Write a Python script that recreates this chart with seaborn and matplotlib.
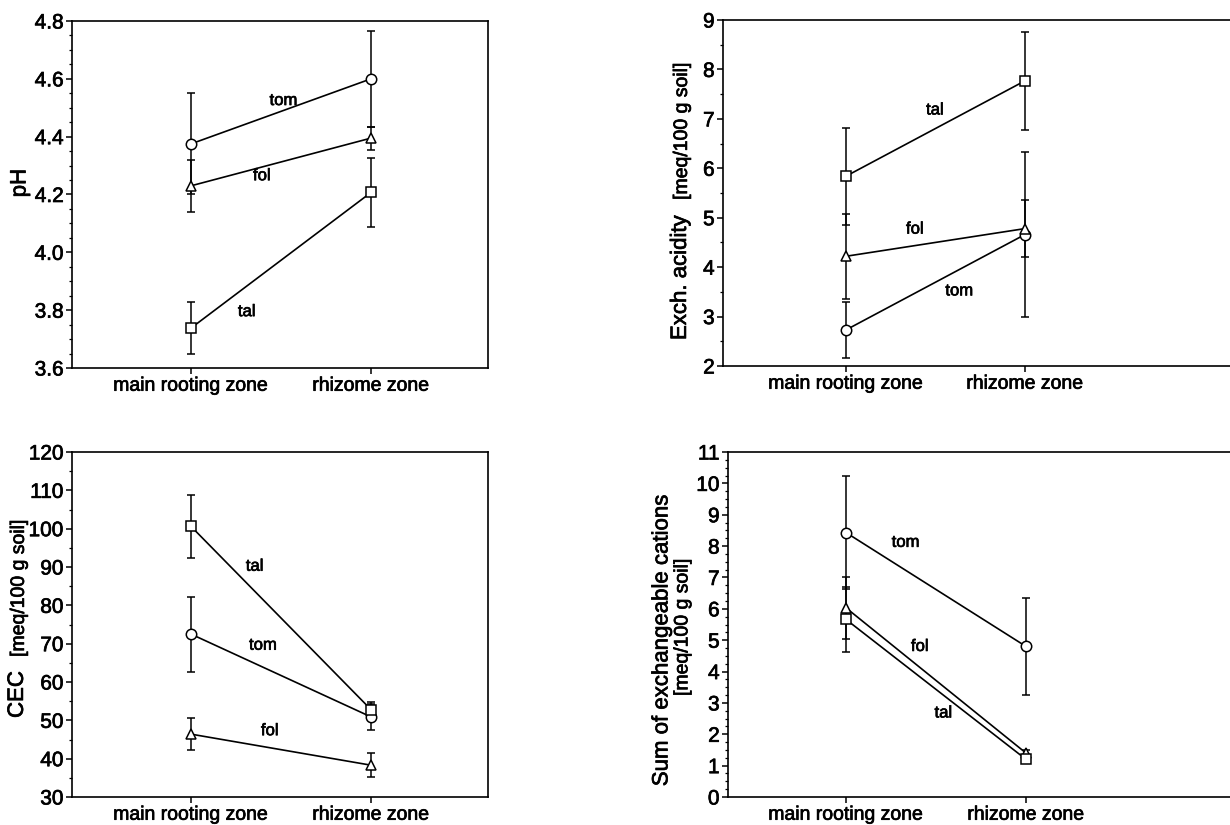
import pandas as pd
import seaborn as sns
import matplotlib.pyplot as plt
import matplotlib.patheffects as pe
from matplotlib.ticker import MultipleLocator, FormatStrFormatter

# Kategorier
zones = ["main rooting zone", "rhizome zone"]
sites = ["tom", "fol", "tal"]

# pH (mean, error)
ph_tom = [4.375, 4.600]
ph_fol = [4.230, 4.395]
ph_tal = [3.738, 4.207]
ph_tom_err = [0.175, 0.165]
ph_fol_err = [0.090, 0.040]
ph_tal_err = [0.090, 0.118]

# Exch. acidity [meq/100 g soil]
acid_tom = [2.73, 4.66]
acid_fol = [4.22, 4.78]
acid_tal = [5.84, 7.77]
acid_tom_err = [0.57, 1.66]
acid_fol_err = [0.86, 0.58]
acid_tal_err = [0.98, 0.99]

# CEC [meq/100 g soil]
cec_tom = [72.5, 50.9]
cec_fol = [46.4, 38.3]
cec_tal = [100.6, 52.8]
cec_tom_err = [9.8, 3.3]
cec_fol_err = [4.2, 3.2]
cec_tal_err = [8.3, 2.0]

# Sum of exchangeable cations [meq/100 g soil]
sum_tom = [8.43, 4.80]
sum_fol = [6.03, 1.40]
sum_tal = [5.66, 1.20]
sum_tom_err = [1.80, 1.55]
sum_fol_err = [0.98, 0.10]
sum_tal_err = [1.04, 0.08]

markers = {"tom": "o", "fol": "^", "tal": "s"}

sns.set_theme(style="ticks")
plt.rcParams["font.family"] = ["Liberation Sans", "DejaVu Sans"]
plt.rcParams["text.color"] = "black"
plt.rcParams["xtick.color"] = "black"
plt.rcParams["ytick.color"] = "black"

# litt tykkere tekst, som i den skannede figuren
bold_ish = [pe.withStroke(linewidth=0.5, foreground="black")]

W, H = 1230, 825
fig = plt.figure(figsize=(W / 100, H / 100), dpi=100)


def px_rect(left, top, right, bottom):
    return [left / W, 1 - bottom / H, (right - left) / W, (bottom - top) / H]


def panel_df(means, errs):
    rows = []
    for site, m, e in zip(sites, means, errs):
        for i, z in enumerate(zones):
            rows.append({"site": site, "pos": i, "zone": z, "mean": m[i], "err": e[i]})
    return pd.DataFrame(rows)


def draw(ax, df, xlim, ylim, major, minor, fmt, labels):
    ax.errorbar(df["pos"], df["mean"], yerr=df["err"], fmt="none", ecolor="black",
                elinewidth=1.1, capsize=3, capthick=1.1, zorder=2)
    sns.lineplot(data=df, x="pos", y="mean", style="site", style_order=sites,
                 markers=markers, dashes=False, color="black", lw=1.2,
                 markersize=7.5, markerfacecolor="white", markeredgecolor="black",
                 markeredgewidth=1.1, legend=False, errorbar=None, ax=ax, zorder=3)
    for txt, (x, y) in labels.items():
        ax.text(x, y, txt, ha="center", va="center", fontsize=12, path_effects=bold_ish)
    ax.set_xlim(*xlim)
    ax.set_ylim(*ylim)
    ax.set_xticks([0, 1])
    ax.set_xticklabels(zones, fontsize=14)
    ax.yaxis.set_major_locator(MultipleLocator(major))
    ax.yaxis.set_minor_locator(MultipleLocator(minor))
    ax.yaxis.set_major_formatter(FormatStrFormatter(fmt))
    ax.tick_params(axis="y", which="major", labelsize=15, length=4, width=1.1, pad=2)
    ax.tick_params(axis="y", which="minor", length=2.5, width=0.9)
    ax.tick_params(axis="x", length=4, width=1.1, pad=3)
    for lab in ax.get_xticklabels() + ax.get_yticklabels():
        lab.set_path_effects(bold_ish)
    ax.set_xlabel("")
    ax.set_ylabel("")
    for s in ax.spines.values():
        s.set_linewidth(1.2)
        s.set_color("black")


# 1. pH
ax1 = fig.add_axes(px_rect(72, 21, 488, 368))
draw(ax1, panel_df([ph_tom, ph_fol, ph_tal], [ph_tom_err, ph_fol_err, ph_tal_err]),
     (-0.661, 1.65), (3.6, 4.8), 0.2, 0.05, "%.1f",
     {"tom": (0.514, 4.525), "fol": (0.394, 4.265), "tal": (0.31, 3.795)})
ax1.text(-0.125, 0.533, "pH", transform=ax1.transAxes, rotation=90,
         ha="center", va="center", fontsize=16, path_effects=bold_ish)

# 2. Exch. acidity
ax2 = fig.add_axes(px_rect(723, 20, 1240, 366))
draw(ax2, panel_df([acid_tom, acid_fol, acid_tal], [acid_tom_err, acid_fol_err, acid_tal_err]),
     (-0.687, 2.201), (2, 9), 1, 0.5, "%d",
     {"tal": (0.497, 7.18), "fol": (0.385, 4.77), "tom": (0.633, 3.52)})
ax2.text(-0.062, 0.075, "Exch. acidity", transform=ax2.transAxes, rotation=90,
         ha="right", va="bottom", fontsize=16, path_effects=bold_ish)
ax2.text(-0.062, 0.48, "[meq/100 g soil]", transform=ax2.transAxes, rotation=90,
         ha="right", va="bottom", fontsize=14, path_effects=bold_ish)

# 3. CEC
ax3 = fig.add_axes(px_rect(72, 452, 488, 797))
draw(ax3, panel_df([cec_tom, cec_fol, cec_tal], [cec_tom_err, cec_fol_err, cec_tal_err]),
     (-0.661, 1.65), (30, 120), 10, 5, "%d",
     {"tal": (0.354, 90.2), "tom": (0.40, 69.6), "fol": (0.438, 47.3)})
ax3.text(-0.106, 0.229, "CEC", transform=ax3.transAxes, rotation=90,
         ha="right", va="bottom", fontsize=16, path_effects=bold_ish)
ax3.text(-0.106, 0.406, "[meq/100 g soil]", transform=ax3.transAxes, rotation=90,
         ha="right", va="bottom", fontsize=14, path_effects=bold_ish)

# 4. Sum of exchangeable cations
ax4 = fig.add_axes(px_rect(728, 452, 1240, 797))
draw(ax4, panel_df([sum_tom, sum_fol, sum_tal], [sum_tom_err, sum_fol_err, sum_tal_err]),
     (-0.656, 2.189), (0, 11), 1, 0.25, "%d",
     {"tom": (0.331, 8.12), "fol": (0.41, 4.80), "tal": (0.541, 2.68)})
ax4.text(-0.129, 0.455, "Sum of exchangeable cations", transform=ax4.transAxes,
         rotation=90, ha="center", va="center", fontsize=16, path_effects=bold_ish)
ax4.text(-0.088, 0.493, "[meq/100 g soil]", transform=ax4.transAxes,
         rotation=90, ha="center", va="center", fontsize=14, path_effects=bold_ish)

fig.savefig("out.png", dpi=100)
